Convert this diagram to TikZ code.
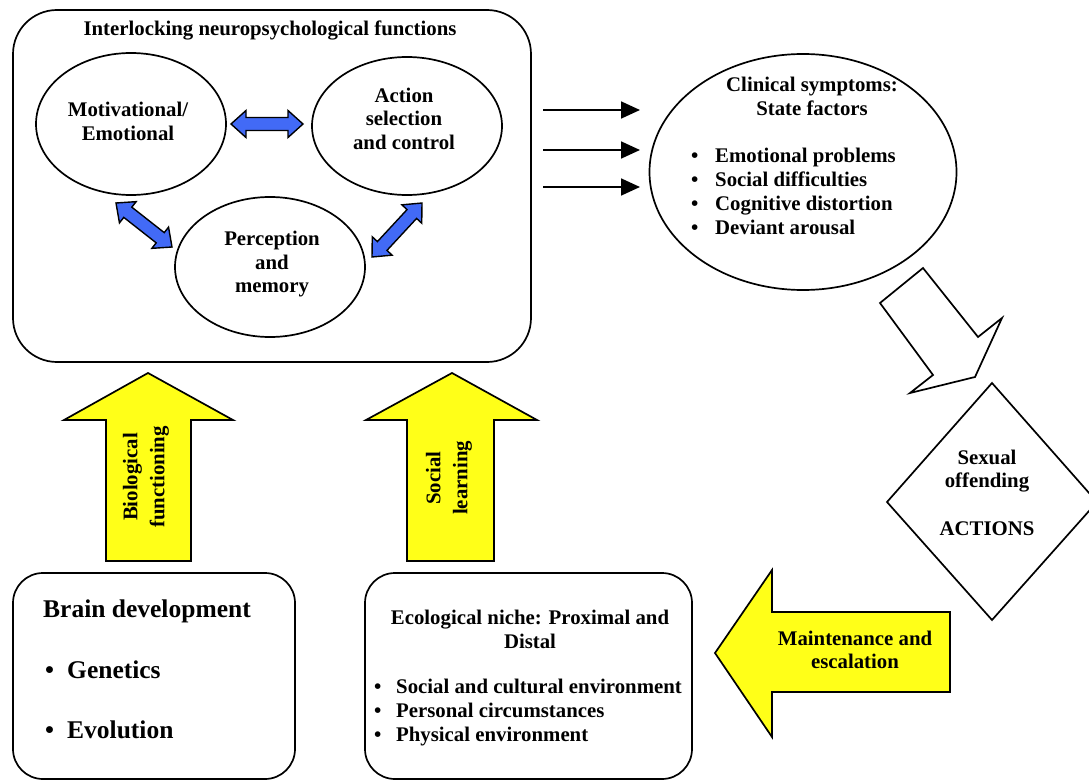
\documentclass[tikz,border=0pt]{standalone}
\usepackage{fontspec}
\setmainfont{Liberation Serif}
\usetikzlibrary{calc,arrows.meta,shapes.geometric}
\definecolor{blueA}{RGB}{66,106,246}
\definecolor{yelA}{RGB}{255,255,24}
\tikzset{
  ln/.style={line width=1.7pt, draw=black},
  ell/.style={ln, ellipse, inner sep=0pt},
  rbox/.style={ln, rectangle, inner sep=0pt},
  txt/.style={font=\fontsize{20.8}{23.5}\selectfont\bfseries, align=center, inner sep=0pt},
  txtl/.style={font=\fontsize{20.8}{24.2}\selectfont\bfseries, align=left, inner sep=0pt, anchor=west},
  big/.style={font=\fontsize{25.5}{28}\selectfont\bfseries, inner sep=0pt, anchor=west},
  rot/.style={font=\fontsize{20.8}{27}\selectfont\bfseries, align=center, inner sep=0pt, rotate=90},
  blueArr/.style={fill=blueA, draw=black, line width=1.4pt, line join=miter},
  yelArr/.style={fill=yelA, draw=black, line width=1.7pt, line join=miter},
  hollow/.style={fill=white, draw=black, line width=1.7pt, line join=miter},
  blk/.style={line width=1.8pt, -{Triangle[length=19pt,width=17pt]}},
}
\newcommand\dblarr[3]{%
  \coordinate (#1a) at #2; \coordinate (#1b) at #3;
  \coordinate (#1ha) at ($(#1a)!15pt!(#1b)$);
  \coordinate (#1hb) at ($(#1b)!15pt!(#1a)$);
  \filldraw[blueArr] (#1a) -- ($(#1ha)!13.5pt!90:(#1b)$) -- ($(#1ha)!6.5pt!90:(#1b)$)
    -- ($(#1hb)!6.5pt!-90:(#1a)$) -- ($(#1hb)!13.5pt!-90:(#1a)$) -- (#1b)
    -- ($(#1hb)!13.5pt!90:(#1a)$) -- ($(#1hb)!6.5pt!90:(#1a)$)
    -- ($(#1ha)!6.5pt!-90:(#1b)$) -- ($(#1ha)!13.5pt!-90:(#1b)$) -- cycle;}
\begin{document}
\begin{tikzpicture}[x=1pt,y=-1pt]
\useasboundingbox[fill=white] (0,0) rectangle (1089,781);

% top box
\node[rbox, rounded corners=44pt, minimum width=518pt, minimum height=352pt] (top) at (272,186) {};
\node[txt] (title) at (270,30) {Interlocking neuropsychological functions};

\node[ell, minimum width=190pt, minimum height=142pt] (mot) at (131,124) {};
\node[txt] (motT) at (128,121.5) {Motivational/\\Emotional};
\node[ell, minimum width=190pt, minimum height=138pt] (act) at (407,126) {};
\node[txt] (actT) at (404,118.5) {Action\\selection\\and control};
\node[ell, minimum width=190pt, minimum height=140pt] (per) at (270,267) {};
\node[txt] (perT) at (272,264.5) {Perception\\and\\memory};

\dblarr{h}{(231,124)}{(303,124)}
\dblarr{l}{(116,203)}{(172,247)}
\dblarr{r}{(422,203)}{(372,257)}

% clinical
\node[ell, minimum width=307pt, minimum height=236pt] (clin) at (803,172) {};
\node[txt] (clinT) at (812,96.5) {Clinical symptoms:\\State factors};
\node[txtl] (clinL) at (691,191.5) {\makebox[24pt][l]{•}Emotional problems\\\makebox[24pt][l]{•}Social difficulties\\\makebox[24pt][l]{•}Cognitive distortion\\\makebox[24pt][l]{•}Deviant arousal};

\foreach \i/\yy in {1/110,2/150,3/187}{
  \coordinate (s\i) at (543,\yy); \coordinate (e\i) at (640,\yy);
  \draw[blk] (s\i) -- (e\i);
}

% hollow arrow
\draw[hollow] (880,303) -- (923,268) -- (978,337) -- (1002,318) -- (975,377) -- (910,393) -- (933,375) -- cycle;

% diamond
\coordinate (dT) at (992,383); \coordinate (dR) at (1097,502);
\coordinate (dB) at (992,620); \coordinate (dL) at (887,502);
\draw[ln, line join=miter] (dT) -- (dR) -- (dB) -- (dL) -- cycle;
\node[txt] (sexT) at (987,471) {Sexual\\offending};
\node[txt] (actsT) at (987,529) {ACTIONS};

% yellow up arrows
\filldraw[yelArr] (148,373) -- (233,420) -- (191,420) -- (191,561) -- (106,561) -- (106,420) -- (64,420) -- cycle;
\node[rot] (bioT) at (146,477) {Biological\\functioning};
\filldraw[yelArr] (452,373) -- (537,420) -- (494,420) -- (494,561) -- (407,561) -- (407,420) -- (366,420) -- cycle;
\node[rot] (socT) at (449,478) {Social\\learning};

% maintenance arrow
\filldraw[yelArr] (715,653) -- (772,570) -- (772,612) -- (950,612) -- (950,692) -- (772,692) -- (772,737) -- cycle;
\node[txt] (mainT) at (855,650) {Maintenance and\\escalation};

% bottom boxes
\node[rbox, rounded corners=30pt, minimum width=282pt, minimum height=206pt] (brain) at (154,676) {};
\node[big] (brainT) at (43,611) {Brain development};
\node[big] (gen) at (45,670) {\makebox[22pt][l]{•}Genetics};
\node[big] (evo) at (45,730) {\makebox[22pt][l]{•}Evolution};

\node[rbox, rounded corners=30pt, minimum width=327pt, minimum height=206pt] (eco) at (528.5,676) {};
\node[txt] (ecoT) at (530,629.5) {Ecological niche: Proximal and\\Distal};
\node[txtl] (ecoL) at (374,712.5) {\makebox[22pt][l]{•}Social and cultural environment\\\makebox[22pt][l]{•}Personal circumstances\\\makebox[22pt][l]{•}Physical environment};
\end{tikzpicture}
\end{document}
